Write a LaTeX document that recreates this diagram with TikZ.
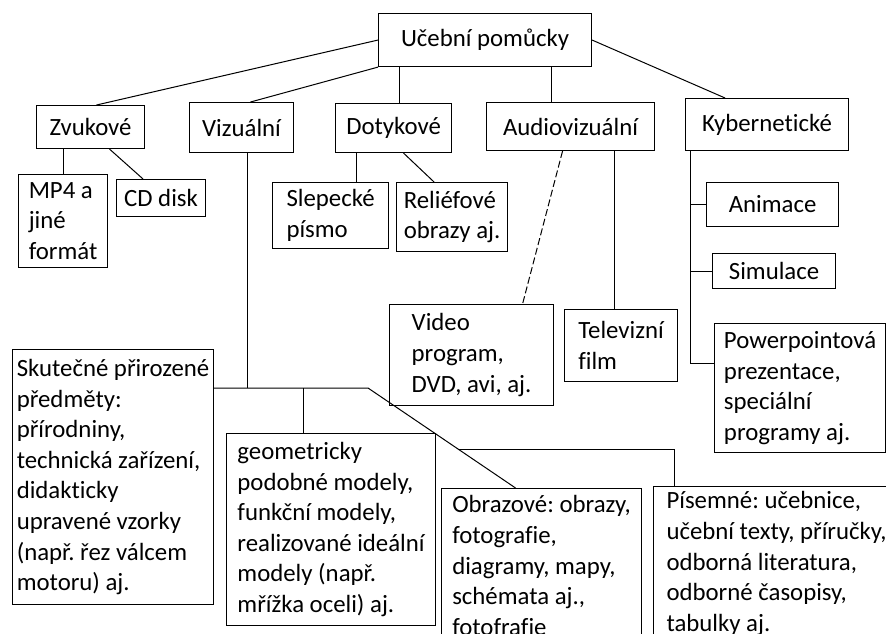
\documentclass[tikz,border=0pt]{standalone}
\usepackage{fontspec}
\setmainfont[Ligatures=NoCommon]{Carlito}
\frenchspacing
\usetikzlibrary{positioning,calc}

\begin{document}
\begin{tikzpicture}[
  x=1pt, y=-1pt,
  every node/.style={font=\fontsize{24.8}{30.6}\selectfont},
  box/.style={
    rectangle, draw=black, line width=1.1pt, anchor=north west,
    align=left, inner sep=0pt,
  },
  conn/.style ={line width=1pt, black},
  connd/.style={conn, dash pattern=on 7pt off 3pt},
]

% ── Page frame ──
\useasboundingbox[fill=white] (0,0) rectangle (886,634);

% ── Root ──
\node[box, minimum width=213, minimum height=53] (root) at (378,13) {Učební pomůcky};

% ── Row 1: categories ──
\node[box, minimum width=108, minimum height=43] (zvuk)  at ( 36,105) {Zvukové};
\node[box, minimum width=104, minimum height=50] (vizu)  at (189,102) {Vizuální};
\node[box, minimum width=116, minimum height=49] (doty)  at (335,103) {Dotykové};
\node[box, minimum width=168, minimum height=48] (audio) at (486,102) {Audiovizuální};
\node[box, minimum width=163, minimum height=52] (kyber) at (685, 98) {Kybernetické};

% ── Row 2: small leaves ──
\node[box, minimum width=89,  minimum height=93] (mp4)  at ( 18,174) {MP4 a\\jiné\\formát};
\node[box, minimum width=89,  minimum height=37] (cd)   at (116,179) {CD disk};
\node[box, minimum width=116, minimum height=66] (slep) at (272,182) {Slepecké\\písmo};
\node[box, minimum width=111, minimum height=69] (reli) at (396,182) {Reliéfové\\obrazy aj.};
\node[box, minimum width=132, minimum height=44] (anim) at (706,182) {Animace};
\node[box, minimum width=123, minimum height=35] (simu) at (712,253) {Simulace};
\node[box, minimum width=171, minimum height=129] (ppt) at (714,323)
  {Powerpointová\\prezentace,\\speciální\\programy aj.};
\node[box, minimum width=164, minimum height=101] (video) at (389,304)
  {Video\\program,\\DVD, avi, aj.};
\node[box, minimum width=113, minimum height=72] (tele) at (564,309) {Televizní\\film};

% ── Row 3: visual aids ──
\node[box, minimum width=201, minimum height=255] (skut) at (12,349)
  {Skutečné přirozené\\předměty:\\přírodniny,\\technická zařízení,\\didakticky\\upravené vzorky\\(např. řez válcem\\motoru) aj.};
\node[box, minimum width=209, minimum height=192] (geom) at (226,433)
  {geometricky\\podobné modely,\\funkční modely,\\realizované ideální\\modely (např.\\mřížka oceli) aj.};
\node[box, minimum width=200, minimum height=154] (obraz) at (441,488)
  {Obrazové: obrazy,\\fotografie,\\diagramy, mapy,\\schémata aj.,\\fotofrafie};
\node[box, minimum width=246, minimum height=154] (pisem) at (653,486)
  {Písemné: učebnice,\\učební texty, příručky,\\odborná literatura,\\odborné časopisy,\\tabulky aj.};

% ── Root → categories ──
\draw[conn] (root.west) -- ($(zvuk.north)+(6,0)$);
\draw[conn] (root.south west) -- ($(vizu.north)+(9,0)$);
\coordinate (dtop) at ($(doty.north)+(6,0)$);
\draw[conn] (dtop) -- (dtop |- root.south);
\coordinate (atop) at ($(audio.north)+(-19,0)$);
\draw[conn] (atop) -- (atop |- root.south);
\draw[conn] (root.east) -- ($(kyber.north)+(-42,0)$);

% ── Zvukové ──
\draw[conn] (zvuk.south -| mp4.north) -- (mp4.north);
\draw[conn] ($(zvuk.south)+(19,0)$) -- ($(cd.north)+(-18,0)$);

% ── Dotykové ──
\coordinate (stop) at ($(slep.north)+(26,0)$);
\draw[conn] (stop |- doty.south) -- (stop);
\draw[conn] ($(doty.south)+(10,0)$) -- ($(reli.north)+(-18,0)$);

% ── Audiovizuální ──
\draw[connd] ($(audio.south)+(-8,0)$) -- ($(video.north)+(51,0)$);
\coordinate (ttop) at ($(tele.north)+(-7,0)$);
\draw[conn] (ttop |- audio.south) -- (ttop);

% ── Kybernetické (trunk with side branches) ──
\coordinate (ktrunk) at ($(kyber.south west)+(5,0)$);
\coordinate (kend) at ($(ppt.north west)+(0,40)$);
\draw[conn] (ktrunk) |- (kend);
\draw[conn] (ktrunk |- anim.west) -- (anim.west);
\draw[conn] (ktrunk |- simu.west) -- (simu.west);

% ── Vizuální (trunk, bus, diagonal) ──
\coordinate (vbend) at (368,388);
\coordinate (vtop) at ($(vizu.south)+(6,0)$);
\coordinate (otop) at ($(obraz.north)+(-26,0)$);
\draw[conn] (vtop) -- (vtop |- vbend);
\draw[conn] (skut.east |- vbend) -- (vbend) -- (otop);
\coordinate (gtop) at ($(geom.north)+(-28,0)$);
\draw[conn] (gtop |- vbend) -- (gtop);
\coordinate (pfork) at ($(vbend)!0.616!(otop)$);
\draw[conn] (pfork) -| ($(pisem.north west)+(21,0)$);

\end{tikzpicture}
\end{document}
